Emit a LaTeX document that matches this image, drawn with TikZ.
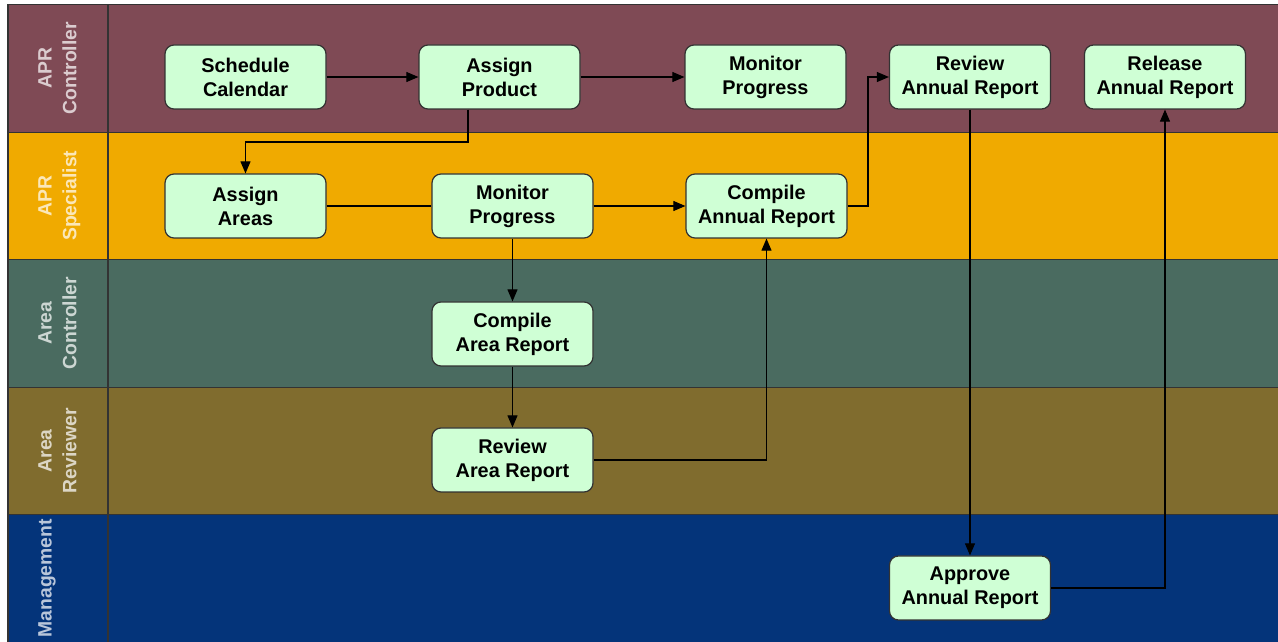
\documentclass[tikz,border=0pt]{standalone}
\usepackage{fontspec}
\setmainfont{Liberation Sans}
\usetikzlibrary{arrows.meta}

\definecolor{ctrlred}{HTML}{7F4A55}
\definecolor{specgold}{HTML}{F0AA00}
\definecolor{areagreen}{HTML}{4A6B60}
\definecolor{revolive}{HTML}{806C2E}
\definecolor{mgmtblue}{HTML}{04347A}
\definecolor{taskgreen}{HTML}{CFFFD5}

\begin{document}
\begin{tikzpicture}[
    every node/.style={font=\fontsize{11.3}{13.6}\selectfont\bfseries},
    task/.style={rectangle, rounded corners=0.18cm, draw=black!80, line width=0.7pt, fill=taskgreen, minimum width=3.22cm, minimum height=1.28cm, align=center, inner sep=0pt},
    lanelabel/.style={rotate=90, anchor=north, inner sep=0pt, align=center, font=\fontsize{11}{14}\selectfont\bfseries},
    lane/.style={draw=black!80, line width=0.6pt},
    flow/.style={draw, line width=0.6pt, -{Triangle[length=0.24cm, width=0.2cm]}},
    plainlink/.style={draw, line width=0.6pt}]

  \useasboundingbox (0,0) rectangle (25.56,12.84);

  \def\laneH{2.55}
  \foreach \i/\col/\txt in {0/mgmtblue/Management, 1/revolive/{Area\\Reviewer}, 2/areagreen/{Area\\Controller}, 3/specgold/{APR\\Specialist}, 4/ctrlred/{APR\\Controller}} {
    \fill[\col] (0.16,\i*\laneH) rectangle (25.56,\i*\laneH+\laneH);
    \node[lanelabel, text=\col!28!white] (lab\i) at (0.76,\i*\laneH+0.5*\laneH) {\txt};
    \draw[lane] (0.16,\i*\laneH+\laneH) -- (25.56,\i*\laneH+\laneH);
  }
  \draw[lane] (0.16,0) -- (0.16,12.75);
  \draw[lane] (2.16,0) -- (2.16,12.75);

  \def\yCtrl{11.30}
  \def\ySpec{8.72}
  \def\yAC{6.16}
  \def\yAR{3.64}
  \def\yMgmt{1.08}

  \node[task] (sched)    at ( 4.91,\yCtrl) {Schedule\\Calendar};
  \node[task] (prod)     at ( 9.99,\yCtrl) {Assign\\Product};
  \node[task] (mon)      at (15.31,\yCtrl) {Monitor\\Progress};
  \node[task] (review)   at (19.40,\yCtrl) {Review\\Annual Report};
  \node[task] (release)  at (23.30,\yCtrl) {Release\\Annual Report};

  \node[task] (areas)    at ( 4.91,\ySpec) {Assign\\Areas};
  \node[task] (specmon)  at (10.25,\ySpec) {Monitor\\Progress};
  \node[task] (compann)  at (15.33,\ySpec) {Compile\\Annual Report};

  \node[task] (comparea) at (10.25,\yAC) {Compile\\Area Report};
  \node[task] (revarea)  at (10.25,\yAR) {Review\\Area Report};

  \node[task] (approve)  at (19.40,\yMgmt) {Approve\\Annual Report};

  \draw[flow] (sched) -- (prod);
  \draw[flow] (prod) -- (mon);
  \coordinate (split) at (9.36,10.0);
  \draw[flow] (prod.south -| split) -- (split) -| (areas.north);
  \draw[plainlink] (areas) -- (specmon);
  \draw[flow] (specmon) -- (compann);
  \draw[flow] (specmon) -- (comparea);
  \draw[flow] (comparea) -- (revarea);
  \draw[flow] (revarea) -| (compann);
  \coordinate (hop) at (17.36,\ySpec);
  \draw[flow] (compann) -- (hop) |- (review);
  \draw[flow] (review) -- (approve);
  \draw[flow] (approve) -| (release);
\end{tikzpicture}
\end{document}
